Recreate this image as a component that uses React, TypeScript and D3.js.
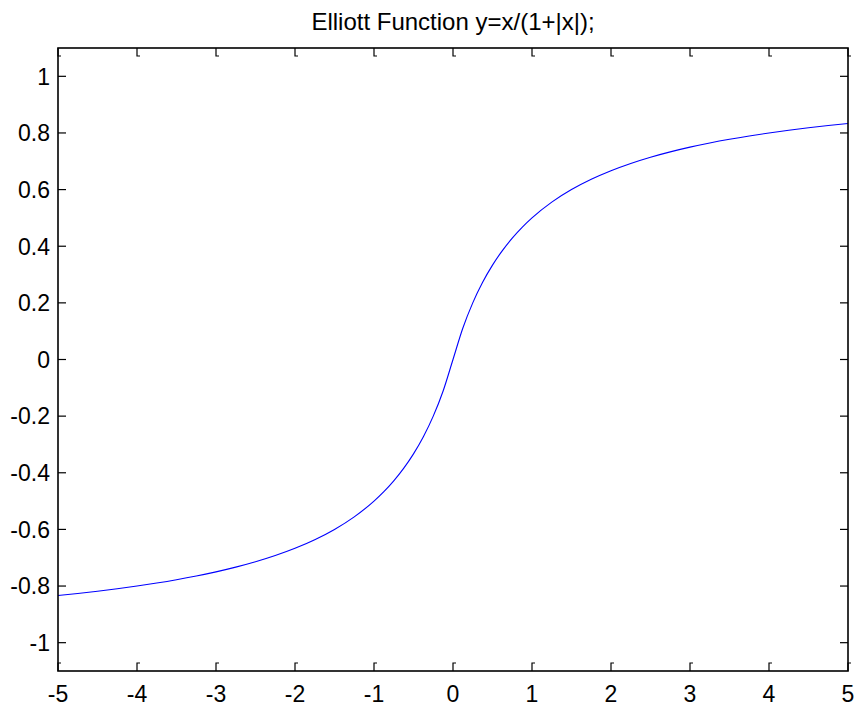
import React from "react";
import * as d3 from "d3";

// Sampled points of the Elliott activation curve
const xValues = [
  -5, -4.75, -4.5, -4.25, -4, -3.75, -3.5, -3.25, -3, -2.75, -2.5, -2.25, -2,
  -1.75, -1.5, -1.25, -1, -0.875, -0.75, -0.625, -0.5, -0.375, -0.25, -0.125, 0,
  0.125, 0.25, 0.375, 0.5, 0.625, 0.75, 0.875, 1, 1.25, 1.5, 1.75, 2, 2.25, 2.5,
  2.75, 3, 3.25, 3.5, 3.75, 4, 4.25, 4.5, 4.75, 5,
];
const yValues = [
  -0.8333, -0.8261, -0.8182, -0.8095, -0.8, -0.7895, -0.7778, -0.7647, -0.75,
  -0.7333, -0.7143, -0.6923, -0.6667, -0.6364, -0.6, -0.5556, -0.5, -0.4667,
  -0.4286, -0.3846, -0.3333, -0.2727, -0.2, -0.1111, 0, 0.1111, 0.2, 0.2727,
  0.3333, 0.3846, 0.4286, 0.4667, 0.5, 0.5556, 0.6, 0.6364, 0.6667, 0.6923,
  0.7143, 0.7333, 0.75, 0.7647, 0.7778, 0.7895, 0.8, 0.8095, 0.8182, 0.8261,
  0.8333,
];
const xTicks = [-5, -4, -3, -2, -1, 0, 1, 2, 3, 4, 5];
const yTicks = [-1, -0.8, -0.6, -0.4, -0.2, 0, 0.2, 0.4, 0.6, 0.8, 1];
const title = "Elliott Function y=x/(1+|x|);";

const W = 860;
const H = 709;
const left = 58;
const right = 848;
const top = 48;
const bottom = 671;
const tickLen = 8;
const font = "'Liberation Sans', Arial, sans-serif";

export default function App() {
  const x = d3.scaleLinear().domain([-5, 5]).range([left, right]);
  const y = d3.scaleLinear().domain([-1.1, 1.1]).range([bottom, top]);

  const points: [number, number][] = xValues.map((v, i) => [v, yValues[i]]);
  const line = d3
    .line<[number, number]>()
    .x((d) => x(d[0]))
    .y((d) => y(d[1]))
    .curve(d3.curveMonotoneX);

  const fmt = (v: number) => String(+v.toFixed(1));

  return (
    <svg
      width={W}
      height={H}
      style={{ position: "absolute", left: 0, top: 0, background: "#fff" }}
    >
      <rect x={0} y={0} width={W} height={H} fill="#fff" />
      <text
        x={(left + right) / 2}
        y={30}
        textAnchor="middle"
        fontFamily={font}
        fontSize={24}
        fill="#000"
      >
        {title}
      </text>

      <path
        d={line(points) ?? ""}
        fill="none"
        stroke="#0000ff"
        strokeWidth={1.1}
      />

      {/* x ticks: bottom and top, each with a small foot at its tip */}
      {xTicks.map((t) => {
        const px = x(t);
        return (
          <g key={`xt${t}`} stroke="#000" strokeWidth={1.2} fill="none">
            <path d={`M${px},${bottom} V${bottom - tickLen} h3`} />
            <path d={`M${px},${top} V${top + tickLen} h3`} />
          </g>
        );
      })}
      {/* y ticks: left and right */}
      {yTicks.map((t) => {
        const py = y(t);
        return (
          <g key={`yt${t}`} stroke="#000" strokeWidth={1.2}>
            <line x1={left} x2={left + tickLen} y1={py} y2={py} />
            <line x1={right} x2={right - tickLen} y1={py} y2={py} />
          </g>
        );
      })}

      <rect
        x={left}
        y={top}
        width={right - left}
        height={bottom - top}
        fill="none"
        stroke="#000"
        strokeWidth={1.6}
      />

      {xTicks.map((t) => (
        <text
          key={`xl${t}`}
          x={x(t)}
          y={702}
          textAnchor="middle"
          fontFamily={font}
          fontSize={23}
          fill="#000"
        >
          {fmt(t)}
        </text>
      ))}
      {yTicks.map((t) => (
        <text
          key={`yl${t}`}
          x={left - 8}
          y={y(t)}
          dy="0.36em"
          textAnchor="end"
          fontFamily={font}
          fontSize={23}
          fill="#000"
        >
          {fmt(t)}
        </text>
      ))}
    </svg>
  );
}
